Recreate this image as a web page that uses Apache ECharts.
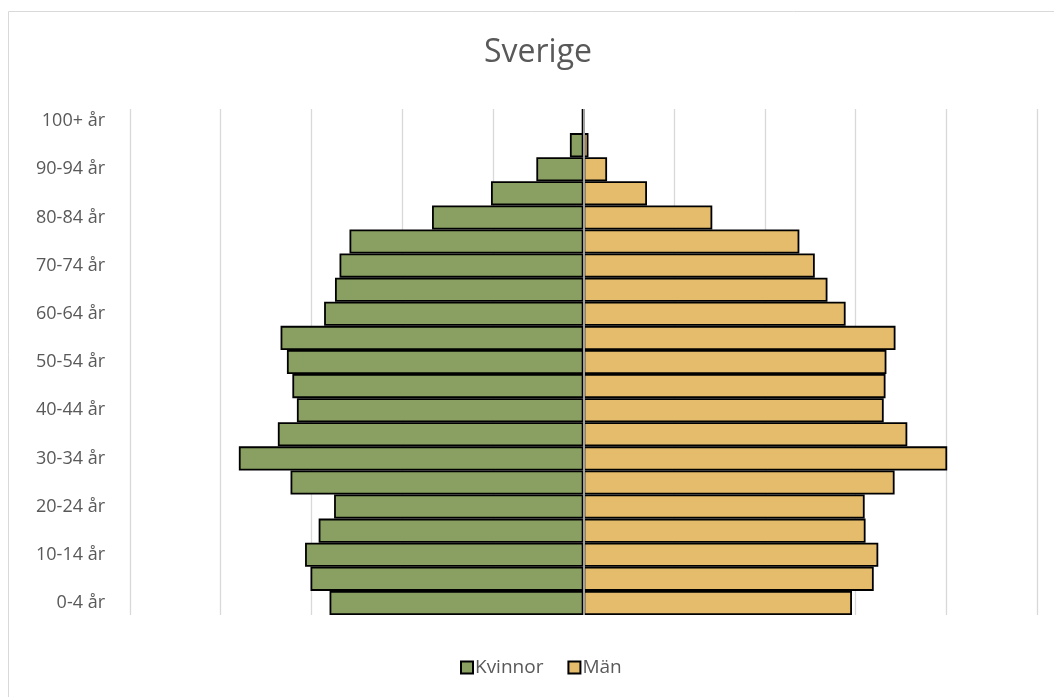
<!DOCTYPE html>
<html>
<head>
<meta charset="utf-8">
<script src="https://cdn.jsdelivr.net/npm/echarts@6/dist/echarts.min.js"></script>
<style>
html,body{margin:0;padding:0;background:#fff;}
#chart{width:1054px;height:697px;}
</style>
</head>
<body>
<div id="chart"></div>
<script>
// Age groups (bottom to top)
var ageGroups = ['0-4 år','5-9 år','10-14 år','15-19 år','20-24 år','25-29 år','30-34 år','35-39 år','40-44 år','45-49 år','50-54 år','55-59 år','60-64 år','65-69 år','70-74 år','75-79 år','80-84 år','85-89 år','90-94 år','95-99 år','100+ år'];
// Population in thousands
var kvinnor = [280, 301, 307, 292, 275, 323, 380, 337, 316, 321, 327, 334, 286, 274, 269, 258, 167, 102, 52, 15, 2];
var man     = [296, 320, 325, 311, 310, 343, 401, 357, 331, 333, 334, 344, 289, 269, 255, 238, 142, 70, 26, 5.5, 1];

var FONT = '"Open Sans", sans-serif';
var chart = echarts.init(document.getElementById('chart'));
chart.setOption({
  animation: false,
  backgroundColor: '#fff',
  graphic: [
    {type:'rect', shape:{x:8.5, y:11.5, width:1100, height:800}, style:{fill:'none', stroke:'#d9d9d9', lineWidth:1}, silent:true, z:-10},
    {type:'text', x:538, y:37, style:{text:'Sverige', font:'normal 32px ' + FONT, fill:'#595959', textAlign:'center', textVerticalAlign:'top'}}
  ],
  legend: {
    data: ['Kvinnor', 'Män'],
    left: 455, top: 653,
    itemWidth: 12, itemHeight: 12, itemGap: 24,
    icon: 'rect',
    textStyle: {fontFamily: FONT, fontSize: 19, color: '#595959', padding:[0,0,0,-3]}
  },
  grid: {left: 130, right: 17, top: 109, bottom: 82, containLabel: false},
  xAxis: {
    type: 'value', min: -500, max: 500, interval: 100,
    axisLabel: {show: false}, axisTick: {show: false}, axisLine: {show: false},
    splitLine: {show: true, lineStyle: {color: '#d9d9d9', width: 1.3}}
  },
  yAxis: {
    type: 'category', data: ageGroups,
    axisLine: {show: false}, axisTick: {show: false},
    axisLabel: {interval: 1, margin: 25, fontFamily: FONT, fontSize: 18, color: '#595959'}
  },
  series: [
    {
      name: 'Kvinnor', type: 'bar', stack: 'pop', barCategoryGap: '0%',
      data: kvinnor.map(function(v){return -v;}),
      itemStyle: {color: '#8aa062', borderColor: '#000', borderWidth: 1.8},
      markLine: {
        silent: true, symbol: 'none', label: {show: false},
        lineStyle: {color: '#a0a0a0', width: 2, type: 'solid'},
        data: [{xAxis: 0}]
      }
    },
    {
      name: 'Män', type: 'bar', stack: 'pop', barCategoryGap: '0%',
      data: man,
      itemStyle: {color: '#e5bc6b', borderColor: '#000', borderWidth: 1.8}
    }
  ]
});
</script>
</body>
</html>
